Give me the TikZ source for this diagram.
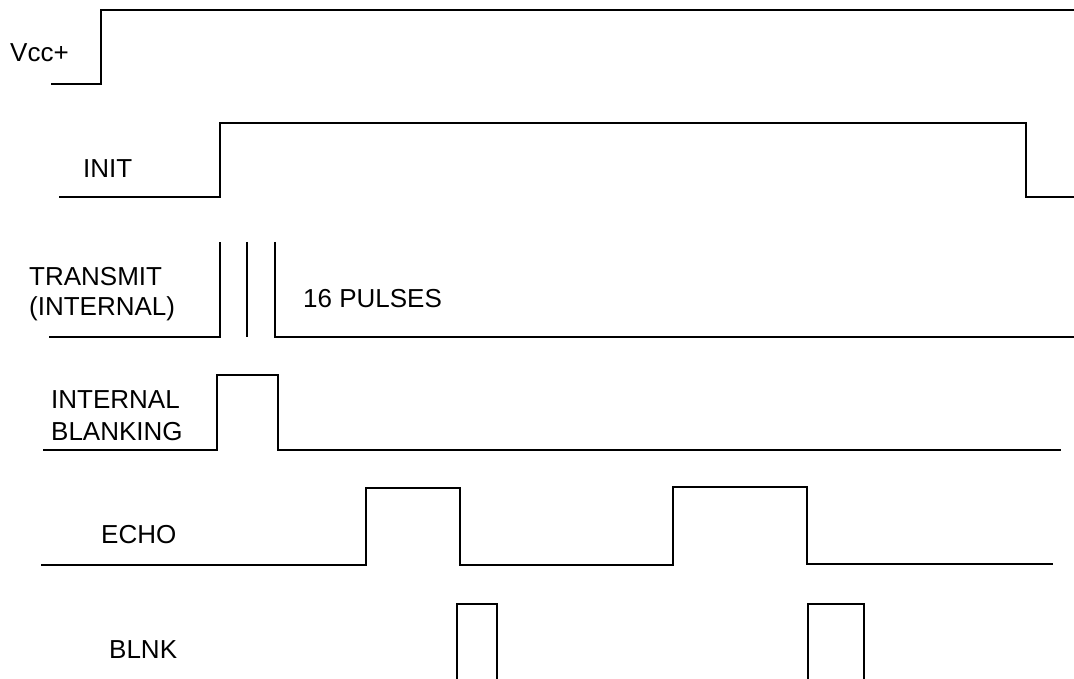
\documentclass[tikz,border=0pt]{standalone}
\usepackage{fontspec}
\setmainfont{Liberation Sans}
\begin{document}
\begin{tikzpicture}[x=1pt,y=-1pt,
  sig/.style={line width=2pt,line join=miter,black},
  lbl/.style={anchor=base west,inner sep=0pt,font=\fontsize{26}{31}\selectfont}]
\useasboundingbox (0,0) rectangle (1074,679);
% labels
\node[lbl] (lvcc) at (10,62) {Vcc+};
\node[lbl] (linit) at (83,178) {INIT};
\node[lbl] (ltxa) at (29,285) {TRANSMIT};
\node[lbl] (ltxb) at (29,316) {(INTERNAL)};
\node[lbl] (lpulse) at (303,307) {16 PULSES};
\node[lbl] (lbla) at (51,408) {INTERNAL};
\node[lbl] (lblb) at (51,440) {BLANKING};
\node[lbl] (lecho) at (101,543) {ECHO};
\node[lbl] (lblnk) at (109,658) {BLNK};
% Vcc+
\draw[sig] (51,84) -- (101,84) -- (101,10) -- (1074,10);
% INIT
\draw[sig] (59,197) -- (220,197) -- (220,123) -- (1026,123) -- (1026,197) -- (1074,197);
% TRANSMIT
\draw[sig] (49,337) -- (220,337) -- (220,242);
\draw[sig] (247,242) -- (247,337);
\draw[sig] (275,242) -- (275,337) -- (1074,337);
% INTERNAL BLANKING
\draw[sig] (43,450) -- (217,450) -- (217,375) -- (278,375) -- (278,450) -- (1061,450);
% ECHO
\draw[sig] (41,565) -- (366,565) -- (366,488) -- (460,488) -- (460,565) -- (673,565) -- (673,487) -- (807,487) -- (807,564) -- (1053,564);
% BLNK
\draw[sig] (457,680) -- (457,604) -- (497,604) -- (497,680);
\draw[sig] (808,680) -- (808,604) -- (864,604) -- (864,680);
\end{tikzpicture}
\end{document}
